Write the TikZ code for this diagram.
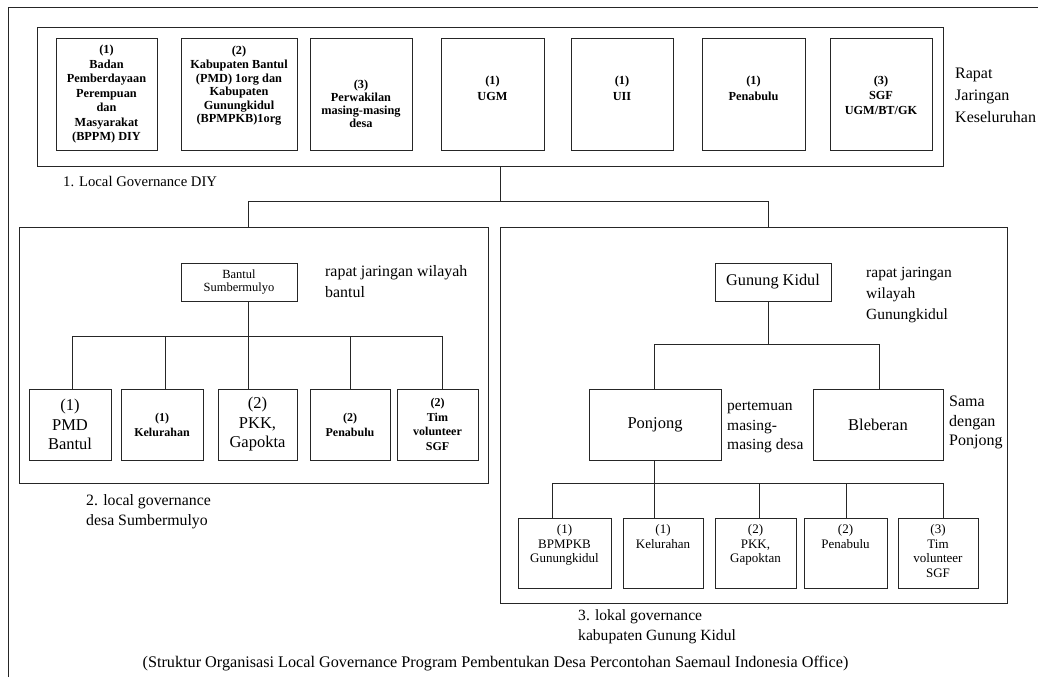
\documentclass[tikz,border=0pt]{standalone}
\usepackage{fontspec}
\setmainfont{Liberation Serif}
\begin{document}
\begin{tikzpicture}[x=1pt,y=-1pt,
  ln/.style={line width=1pt, draw=black!85},
  bx/.style={draw=black!85, line width=1pt, inner sep=0pt, align=center},
  tb/.style={align=center, inner sep=0pt, font=\fontsize{12.3}{14}\selectfont\bfseries},
  lab/.style={align=left, inner sep=0pt, anchor=west, font=\fontsize{15.8}{20}\selectfont},
  big/.style={font=\fontsize{16.5}{19.5}\selectfont},
  smb/.style={font=\fontsize{12}{15}\selectfont\bfseries},
  rt/.style={align=center, inner sep=0pt, anchor=north, font=\fontsize{13}{14.5}\selectfont}]
\useasboundingbox (0,0) rectangle (1038,677);
% outer frame
\draw[ln] (8,677) -- (8,8) -- (1038,8);
% top level
\node[bx, minimum width=906pt, minimum height=138pt] (inner) at (490,97) {};
\foreach \n/\x/\w in {b1/106.5/101, b2/239/116, b3/361/102, b4/492.5/103, b5/622/102, b6/753.5/103, b7/881/102}
  \node[bx, minimum width=\w pt, minimum height=111pt] (\n) at (\x,94.5) {};
\node[tb, font=\fontsize{12.3}{14.5}\selectfont\bfseries] (b1t) at (b1) {(1)\\Badan\\Pemberdayaan\\Perempuan\\dan\\Masyarakat\\(BPPM) DIY};
\node[tb, font=\fontsize{12.3}{13.6}\selectfont\bfseries] (b2t) at (239,86) {(2)\\Kabupaten Bantul\\(PMD) 1org dan\\Kabupaten\\Gunungkidul\\(BPMPKB)1org};
\node[tb, font=\fontsize{12.3}{13}\selectfont\bfseries] (b3t) at (361,104) {(3)\\Perwakilan\\masing-masing\\desa};
\node[tb, font=\fontsize{12.3}{16}\selectfont\bfseries] (b4t) at (492.5,88) {(1)\\UGM};
\node[tb, font=\fontsize{12.3}{16}\selectfont\bfseries] (b5t) at (622,88) {(1)\\UII};
\node[tb, font=\fontsize{12.3}{16}\selectfont\bfseries] (b6t) at (753.5,88) {(1)\\Penabulu};
\node[tb, font=\fontsize{12.3}{15}\selectfont\bfseries] (b7t) at (881,95) {(3)\\SGF\\UGM/BT/GK};
\node[lab, font=\fontsize{16}{22}\selectfont] (rapat) at (955,95) {Rapat\\Jaringan\\Keseluruhan};
\node[lab, font=\fontsize{14.7}{18}\selectfont] (l1) at (63,182) {1. Local Governance DIY};
% level 2 boxes
\node[bx, minimum width=469pt, minimum height=256pt] (left) at (253.5,355) {};
\node[bx, minimum width=507pt, minimum height=376pt] (right) at (753.5,415) {};
\coordinate (busL) at (248,201);
\coordinate (busR) at (768,201);
\draw[ln] ([xshift=10pt]inner.south) -- ([xshift=10pt]inner.south |- busL);
\draw[ln] (left.north -| busL) -- (busL) -- (busR) -- (right.north -| busR);
% left: Bantul
\node[bx, minimum width=116pt, minimum height=38pt, font=\fontsize{12.5}{13}\selectfont] (bantul) at (239,282) {Bantul\\Sumbermulyo};
\node[lab, font=\fontsize{15.9}{21}\selectfont] (rapb) at (325,281.5) {rapat jaringan wilayah\\bantul};
\node[bx, big, minimum width=82pt, minimum height=71pt] (lc1) at (70,424.5) {(1)\\PMD\\Bantul};
\node[bx, smb, minimum width=82pt, minimum height=71pt] (lc2) at (162,424.5) {(1)\\Kelurahan};
\node[bx, big, minimum width=79pt, minimum height=71pt] (lc3) at (257.5,424.5) {(2)\\PKK,\\Gapokta};
\node[bx, smb, minimum width=80pt, minimum height=71pt] (lc4) at (350,424.5) {(2)\\Penabulu};
\node[bx, font=\fontsize{12}{14.5}\selectfont\bfseries, minimum width=81pt, minimum height=71pt] (lc5) at (437.5,424.5) {(2)\\Tim\\volunteer\\SGF};
\draw[ln] ([xshift=9pt]bantul.south) -- ++(0,35) coordinate (lb);
\draw[ln] ([xshift=2pt]lc1.north) |- (lb) -| ([xshift=4.5pt]lc5.north);
\draw[ln] ([xshift=3pt]lc2.north) -- ++(0,-53);
\draw[ln] ([xshift=-9.5pt]lc3.north) -- ++(0,-53);
\draw[ln] (lc4.north) -- ++(0,-53);
\node[lab] (l2) at (86,512) {2. local governance\\desa Sumbermulyo};
% right: Gunung Kidul
\node[bx, minimum width=116pt, minimum height=38pt, font=\fontsize{16.3}{19}\selectfont] (gk) at (773,282) {Gunung Kidul};
\node[lab, font=\fontsize{15.5}{21}\selectfont] (rapg) at (866,295) {rapat jaringan\\wilayah\\Gunungkidul};
\node[bx, big, minimum width=132pt, minimum height=71pt] (pj) at (655,424.5) {Ponjong};
\node[bx, big, minimum width=130pt, minimum height=71pt] (bl) at (878,424.5) {Bleberan};
\draw[ln] ([xshift=-5pt]gk.south) -- ++(0,43) coordinate (rb);
\draw[ln] ([xshift=-1pt]pj.north) |- (rb) -| ([xshift=1pt]bl.north);
\node[lab, font=\fontsize{15.5}{19.5}\selectfont] (pert) at (727,427.5) {pertemuan\\masing-\\masing desa};
\node[lab, font=\fontsize{16}{19.5}\selectfont] (sama) at (949,422.5) {Sama\\dengan\\Ponjong};
\foreach \n/\x/\w in {rc1/564.5/93, rc2/663/80, rc3/755.5/81, rc4/845.5/83, rc5/938/80}
  \node[bx, minimum width=\w pt, minimum height=70pt] (\n) at (\x,553) {};
\draw[ln] ([xshift=-1pt]pj.south) -- ++(0,23) coordinate (rb2);
\draw[ln] ([xshift=-12.5pt]rc1.north) |- (rb2) -| ([xshift=5pt]rc5.north);
\draw[ln] ([xshift=-9pt]rc2.north) -- ++(0,-35);
\draw[ln] ([xshift=3.5pt]rc3.north) -- ++(0,-35);
\draw[ln] ([xshift=0.5pt]rc4.north) -- ++(0,-35);
\node[rt] (rc1t) at ([yshift=-7pt]rc1.north) {(1)\\BPMPKB\\Gunungkidul};
\node[rt] (rc2t) at ([yshift=-7pt]rc2.north) {(1)\\Kelurahan};
\node[rt] (rc3t) at ([yshift=-7pt]rc3.north) {(2)\\PKK,\\Gapoktan};
\node[rt] (rc4t) at ([yshift=-7pt]rc4.north) {(2)\\Penabulu};
\node[rt] (rc5t) at ([yshift=-7pt]rc5.north) {(3)\\Tim\\volunteer\\SGF};
\node[lab, font=\fontsize{15.6}{20}\selectfont] (l3) at (578,627) {3. lokal governance\\kabupaten Gunung Kidul};
\node[inner sep=0pt, font=\fontsize{16.2}{18}\selectfont] (cap) at (495.5,664) {(Struktur Organisasi Local Governance Program Pembentukan Desa Percontohan Saemaul Indonesia Office)};
\end{tikzpicture}
\end{document}
